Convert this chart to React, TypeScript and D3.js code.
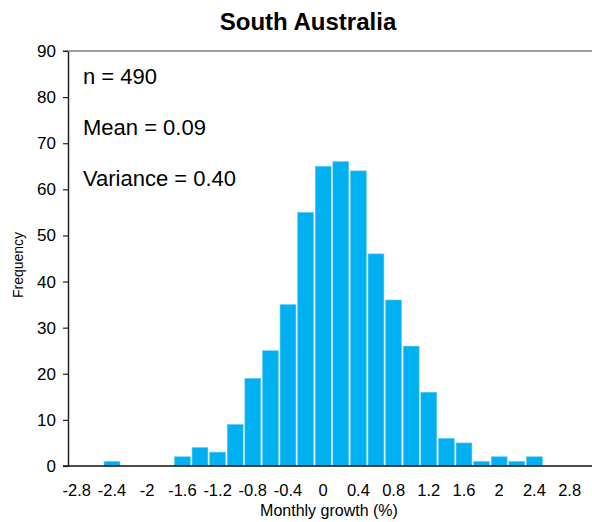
import * as d3 from "d3";
import { useRef, useEffect } from "react";

// bin centres (monthly growth %) and counts
const bins = [
  -2.8, -2.6, -2.4, -2.2, -2.0, -1.8, -1.6, -1.4, -1.2, -1.0, -0.8, -0.6, -0.4, -0.2, 0,
  0.2, 0.4, 0.6, 0.8, 1.0, 1.2, 1.4, 1.6, 1.8, 2.0, 2.2, 2.4, 2.6, 2.8, 3.0,
];
const counts = [
  0, 0, 1, 0, 0, 0, 2, 4, 3, 9, 19, 25, 35, 55, 65,
  66, 64, 46, 36, 26, 16, 6, 5, 1, 2, 1, 2, 0, 0, 0,
];
const xLabels = [-2.8, -2.4, -2, -1.6, -1.2, -0.8, -0.4, 0, 0.4, 0.8, 1.2, 1.6, 2, 2.4, 2.8];
const yTicks = [0, 10, 20, 30, 40, 50, 60, 70, 80, 90];
const stats = ["n = 490", "Mean = 0.09", "Variance = 0.40"];

const width = 592;
const height = 522;
const font = "'Liberation Sans', Arial, sans-serif";

function App() {
  const svgRef = useRef<SVGSVGElement>(null);

  useEffect(() => {
    const svg = d3.select(svgRef.current);
    svg.selectAll("*").remove();

    const left = 68;
    const top = 51;
    const bottom = 466;

    const x = d3
      .scaleBand<number>()
      .domain(bins)
      .range([left, left + 17.6 * bins.length])
      .paddingInner(0.1)
      .paddingOuter(0.05);
    const y = d3.scaleLinear().domain([0, 90]).range([bottom, top]);

    // top border line
    svg
      .append("line")
      .attr("x1", left - 5)
      .attr("x2", width)
      .attr("y1", top)
      .attr("y2", top)
      .attr("stroke", "#808080")
      .attr("stroke-width", 1.5);

    // bars
    svg
      .selectAll("rect.bar")
      .data(bins)
      .join("rect")
      .attr("class", "bar")
      .attr("x", (d) => x(d)!)
      .attr("width", x.bandwidth())
      .attr("y", (_, i) => y(counts[i]))
      .attr("height", (_, i) => bottom - y(counts[i]))
      .attr("fill", "#00B0F0")
      .attr("stroke", (_, i) => (counts[i] > 0 ? "#5CCBF5" : "none"))
      .attr("stroke-width", 0.6);

    // y axis
    const yAxis = svg
      .append("g")
      .attr("transform", `translate(${left},0)`)
      .call(d3.axisLeft(y).tickValues(yTicks).tickSize(5).tickSizeOuter(0));
    yAxis.select(".domain").attr("stroke", "#222").attr("stroke-width", 1.5);
    yAxis.selectAll(".tick line").attr("stroke", "#222").attr("stroke-width", 1.2);
    yAxis
      .selectAll(".tick text")
      .attr("x", -12)
      .attr("font-family", font)
      .attr("font-size", 17)
      .attr("fill", "#000");

    // x axis line
    svg
      .append("line")
      .attr("x1", left - 5)
      .attr("x2", width)
      .attr("y1", bottom)
      .attr("y2", bottom)
      .attr("stroke", "#111")
      .attr("stroke-width", 1.5);

    svg
      .selectAll("text.xlab")
      .data(xLabels)
      .join("text")
      .attr("class", "xlab")
      .attr("x", (d) => x(d)! + x.bandwidth() / 2)
      .attr("y", 496)
      .attr("text-anchor", "middle")
      .attr("font-family", font)
      .attr("font-size", 16.5)
      .text((d) => String(d));

    // stats
    svg
      .selectAll("text.stat")
      .data(stats)
      .join("text")
      .attr("class", "stat")
      .attr("x", 83)
      .attr("y", (_, i) => 84 + i * 51)
      .attr("font-family", font)
      .attr("font-size", 22)
      .text((d) => d);

    // titles
    svg
      .append("text")
      .attr("x", 308)
      .attr("y", 30)
      .attr("text-anchor", "middle")
      .attr("font-family", font)
      .attr("font-weight", "bold")
      .attr("font-size", 24)
      .text("South Australia");

    svg
      .append("text")
      .attr("x", 329)
      .attr("y", 516)
      .attr("text-anchor", "middle")
      .attr("font-family", font)
      .attr("font-size", 16)
      .text("Monthly growth (%)");

    svg
      .append("text")
      .attr("transform", `translate(23,265) rotate(-90)`)
      .attr("text-anchor", "middle")
      .attr("font-family", font)
      .attr("font-size", 14)
      .text("Frequency");
  }, []);

  return (
    <svg
      ref={svgRef}
      width={width}
      height={height}
      style={{ position: "absolute", left: 0, top: 0, background: "#fff" }}
    ></svg>
  );
}

export default App;
